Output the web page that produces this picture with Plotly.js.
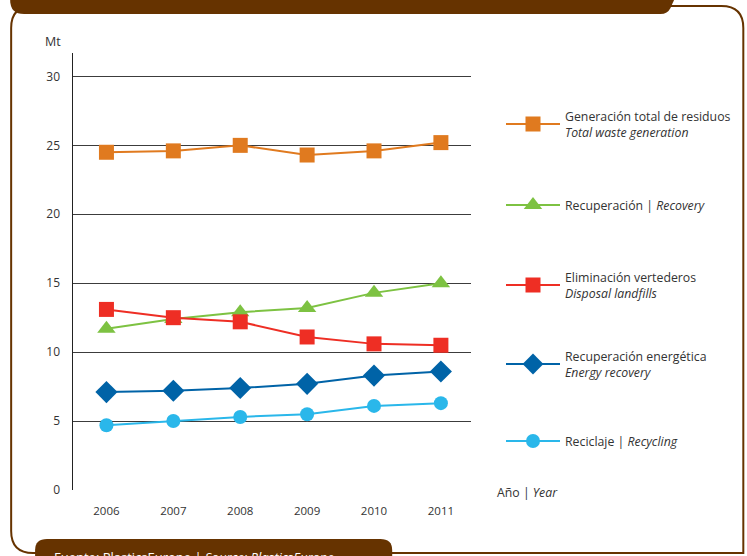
<!DOCTYPE html>
<html><head><meta charset="utf-8">
<script src="https://cdn.plot.ly/plotly-3.0.1.min.js"></script>
<style>html,body{margin:0;padding:0;background:#fff}#chart{width:747px;height:556px}</style>
</head><body><div id="chart"></div>
<script>
const years = [2006, 2007, 2008, 2009, 2010, 2011];
const totalWaste = [24.5, 24.6, 25.0, 24.3, 24.6, 25.2];
const recovery = [11.7, 12.4, 12.9, 13.2, 14.3, 15.0];
const landfill = [13.1, 12.5, 12.2, 11.1, 10.6, 10.5];
const energyRecovery = [7.1, 7.2, 7.4, 7.7, 8.3, 8.6];
const recycling = [4.7, 5.0, 5.3, 5.5, 6.1, 6.3];
const yTicks = [0, 5, 10, 15, 20, 25, 30];

const W = 747, H = 556, L = 73, R = 275, T = 53, B = 66;
const px = x => (x - L) / (W - L - R);
const py = y => (H - B - y) / (H - T - B);

const font = "'Open Sans', 'Noto Sans', sans-serif";
const series = [
  {y: totalWaste, color: '#E07A1F', symbol: 'square', size: 15, name: 'Generación total de residuos<br><i>Total waste generation</i>', legend: 'legend'},
  {y: recovery, color: '#7DC242', symbol: 'triangle-up', size: 16, name: 'Recuperación | <i>Recovery</i>', legend: 'legend2'},
  {y: landfill, color: '#EE2E24', symbol: 'square', size: 15, name: 'Eliminación vertederos<br><i>Disposal landfills</i>', legend: 'legend3'},
  {y: energyRecovery, color: '#0063A7', symbol: 'diamond', size: 17, name: 'Recuperación energética<br><i>Energy recovery</i>', legend: 'legend4'},
  {y: recycling, color: '#2AB7EA', symbol: 'circle', size: 14, name: 'Reciclaje | <i>Recycling</i>', legend: 'legend5'}
];
const traces = series.map(s => ({
  x: years, y: s.y, type: 'scatter', mode: 'lines+markers', name: s.name,
  legend: s.legend,
  line: {color: s.color, width: 2},
  marker: {color: s.color, symbol: s.symbol, size: s.size, line: {width: 0}}
}));

const legendCenters = [124, 205, 285, 364, 441];
const legendBase = {x: px(501), xanchor: 'left', yanchor: 'middle', bgcolor: 'rgba(0,0,0,0)',
  font: {family: font, size: 12.3, color: '#333'}, borderwidth: 0, itemwidth: 54};
const layout = {
  width: W, height: H,
  margin: {l: L, r: R, t: T, b: B},
  paper_bgcolor: '#fff', plot_bgcolor: '#fff',
  showlegend: true,
  font: {family: font, color: '#333'},
  xaxis: {range: [2005.5, 2011.45], tickvals: years, ticktext: years.map(String),
    showgrid: false, zeroline: false, showline: false, ticks: '',
    ticklabelstandoff: 12, tickfont: {family: font, size: 11.5, color: '#333'}, fixedrange: true},
  yaxis: {range: [0, 31.7], tickvals: yTicks, ticktext: yTicks.map(String),
    showgrid: true, gridcolor: '#3c3c3c', gridwidth: 1, zeroline: false,
    showline: true, linecolor: '#222', linewidth: 1.5, ticks: '',
    ticklabelstandoff: 9, tickfont: {family: font, size: 12, color: '#333'}, fixedrange: true},
  shapes: [
    {type: 'path', xref: 'paper', yref: 'paper', layer: 'below',
     path: `M ${px(33)},${py(6)} L ${px(723)},${py(6)} Q ${px(745)},${py(6)} ${px(745)},${py(28)} L ${px(745)},${py(553)} L ${px(33)},${py(553)} Q ${px(11)},${py(553)} ${px(11)},${py(531)} L ${px(11)},${py(28)} Q ${px(11)},${py(6)} ${px(33)},${py(6)} Z`,
     line: {color: '#663300', width: 2}, fillcolor: 'rgba(0,0,0,0)'},
    {type: 'path', xref: 'paper', yref: 'paper', layer: 'above',
     path: `M ${px(10)},${py(-10)} L ${px(680)},${py(-10)} L ${px(672)},${py(8)} Q ${px(669)},${py(14)} ${px(662)},${py(14)} L ${px(24)},${py(14)} Q ${px(10)},${py(14)} ${px(10)},${py(0)} Z`,
     line: {width: 0}, fillcolor: '#663300'},
    {type: 'path', xref: 'paper', yref: 'paper', layer: 'above',
     path: `M ${px(35)},${py(570)} L ${px(35)},${py(550)} Q ${px(35)},${py(539)} ${px(47)},${py(539)} L ${px(381)},${py(539)} Q ${px(393)},${py(539)} ${px(393)},${py(550)} L ${px(393)},${py(570)} Z`,
     line: {width: 0}, fillcolor: '#663300'}
  ],
  annotations: [
    {text: 'Mt', xref: 'paper', yref: 'paper', x: px(63), y: py(42), xanchor: 'right', yanchor: 'middle',
     showarrow: false, font: {family: font, size: 12.5, color: '#333'}},
    {text: 'Año | <i>Year</i>', xref: 'paper', yref: 'paper', x: px(496), y: py(492), xanchor: 'left', yanchor: 'middle',
     showarrow: false, font: {family: font, size: 12.3, color: '#333'}},
    {text: 'Fuente: PlasticsEurope | <i>Source: PlasticsEurope</i>', xref: 'paper', yref: 'paper', x: px(52), y: py(557), xanchor: 'left', yanchor: 'middle',
     showarrow: false, font: {family: font, size: 13, color: '#fff'}}
  ]
};
['legend', 'legend2', 'legend3', 'legend4', 'legend5'].forEach((k, i) => {
  layout[k] = Object.assign({}, legendBase, {y: py(legendCenters[i])});
});
Plotly.newPlot('chart', traces, layout, {displayModeBar: false, staticPlot: true});
</script></body></html>
